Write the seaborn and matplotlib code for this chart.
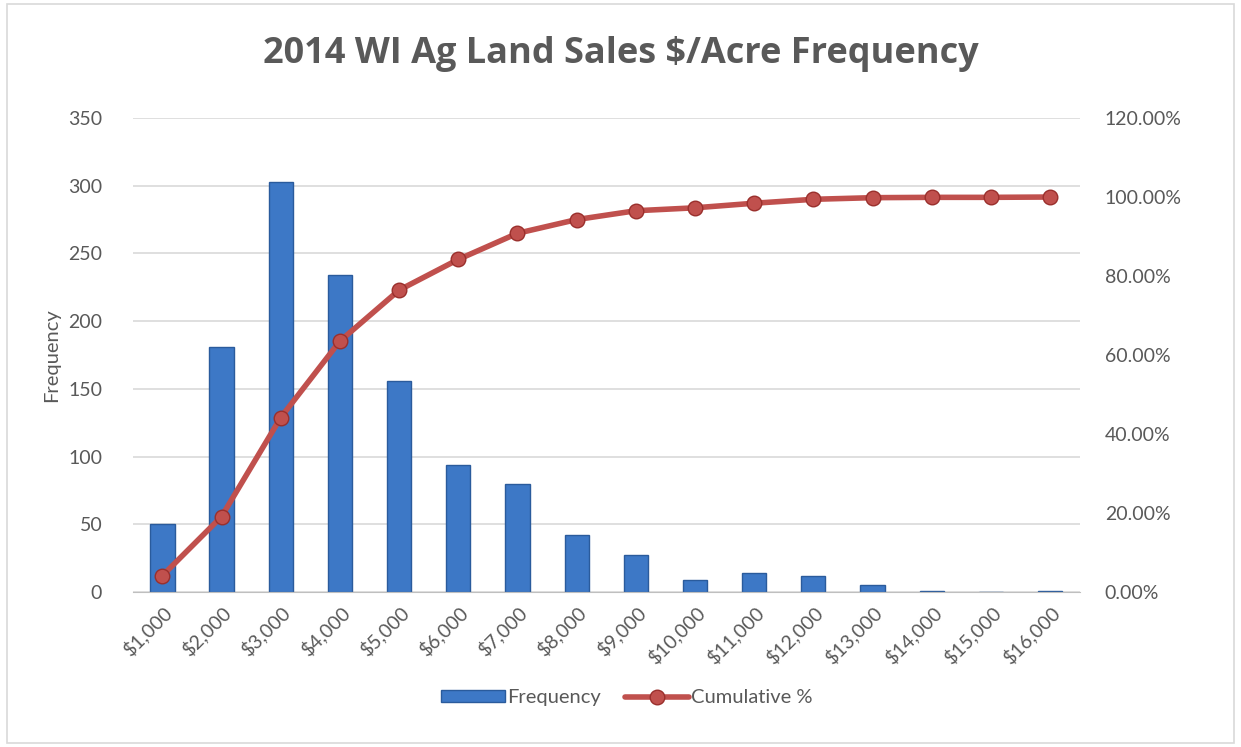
import numpy as np
import pandas as pd
import matplotlib.pyplot as plt
from matplotlib.patches import Patch
from matplotlib.lines import Line2D
import seaborn as sns

# price bins and counts
bins = ['$1,000', '$2,000', '$3,000', '$4,000', '$5,000', '$6,000', '$7,000', '$8,000',
        '$9,000', '$10,000', '$11,000', '$12,000', '$13,000', '$14,000', '$15,000', '$16,000']
frequency = [50, 181, 303, 234, 156, 94, 80, 42, 27, 9, 14, 12, 5, 1, 0, 1]

df = pd.DataFrame({'bin': bins, 'frequency': frequency})
df['cum_pct'] = df['frequency'].cumsum() / df['frequency'].sum() * 100

sns.set_style('white')
plt.rcParams['font.family'] = ['Lato', 'DejaVu Sans']
text_col = '#595959'
bar_col = '#3d78c6'
line_col = '#c0504d'

fig = plt.figure(figsize=(12.41, 7.47), dpi=100)
ax = fig.add_axes([0.107, 0.2075, 0.763, 0.6345])

sns.barplot(data=df, x='bin', y='frequency', color=bar_col, width=0.41,
            edgecolor='#2a5b9c', linewidth=1, saturation=1, ax=ax)
ax.set_ylim(0, 350)
ax.set_yticks(range(0, 351, 50))
ax.yaxis.grid(True, color='#d9d9d9', linewidth=1.2)
ax.set_axisbelow(True)
for s in ['top', 'right', 'left']:
    ax.spines[s].set_visible(False)
ax.spines['bottom'].set_color('#bfbfbf')
ax.set_xlabel('')
ax.set_ylabel('Frequency', fontsize=14.5, color=text_col, labelpad=6)
ax.tick_params(axis='y', length=0, labelsize=14, labelcolor=text_col, pad=22)
ax.tick_params(axis='x', length=0, labelsize=14, labelcolor=text_col, pad=8)
for lab in ax.get_xticklabels():
    lab.set_rotation(45)
    lab.set_ha('right')
    lab.set_rotation_mode('anchor')

ax2 = ax.twinx()
sns.pointplot(data=df, x='bin', y='cum_pct', color=line_col, markers='o',
              linewidth=4, markersize=10.5, markeredgecolor='#9a2f2c',
              markeredgewidth=1, ax=ax2)
ax2.set_ylim(0, 120)
ax2.set_yticks(range(0, 121, 20))
ax2.set_yticklabels([f'{v:.2f}%' for v in range(0, 121, 20)])
ax2.set_ylabel('')
ax2.set_xlabel('')
for s in ['top', 'right', 'left', 'bottom']:
    ax2.spines[s].set_visible(False)
ax2.tick_params(axis='y', length=0, labelsize=14, labelcolor=text_col, pad=18)

fig.suptitle('2014 WI Ag Land Sales $/Acre Frequency', y=0.952, fontsize=26,
             fontweight='bold', color=text_col, family=['Open Sans', 'DejaVu Sans'])

handles = [Patch(facecolor=bar_col, edgecolor='#2a5b9c'),
           Line2D([0], [0], color=line_col, linewidth=4, marker='o', markersize=10.5,
                  markerfacecolor=line_col, markeredgecolor='#9a2f2c')]
fig.legend(handles, ['Frequency', 'Cumulative %'], loc='center', ncol=2,
           bbox_to_anchor=(0.505, 0.066), frameon=False, fontsize=14.5,
           handlelength=3.2, handleheight=0.5, handletextpad=0.1, columnspacing=1.2,
           labelcolor=text_col)

fig.patches.append(plt.Rectangle((0.006, 0.006), 0.988, 0.988, transform=fig.transFigure,
                                 fill=False, edgecolor='#d9d9d9', linewidth=1.2))

fig.savefig('out.png', dpi=100)
